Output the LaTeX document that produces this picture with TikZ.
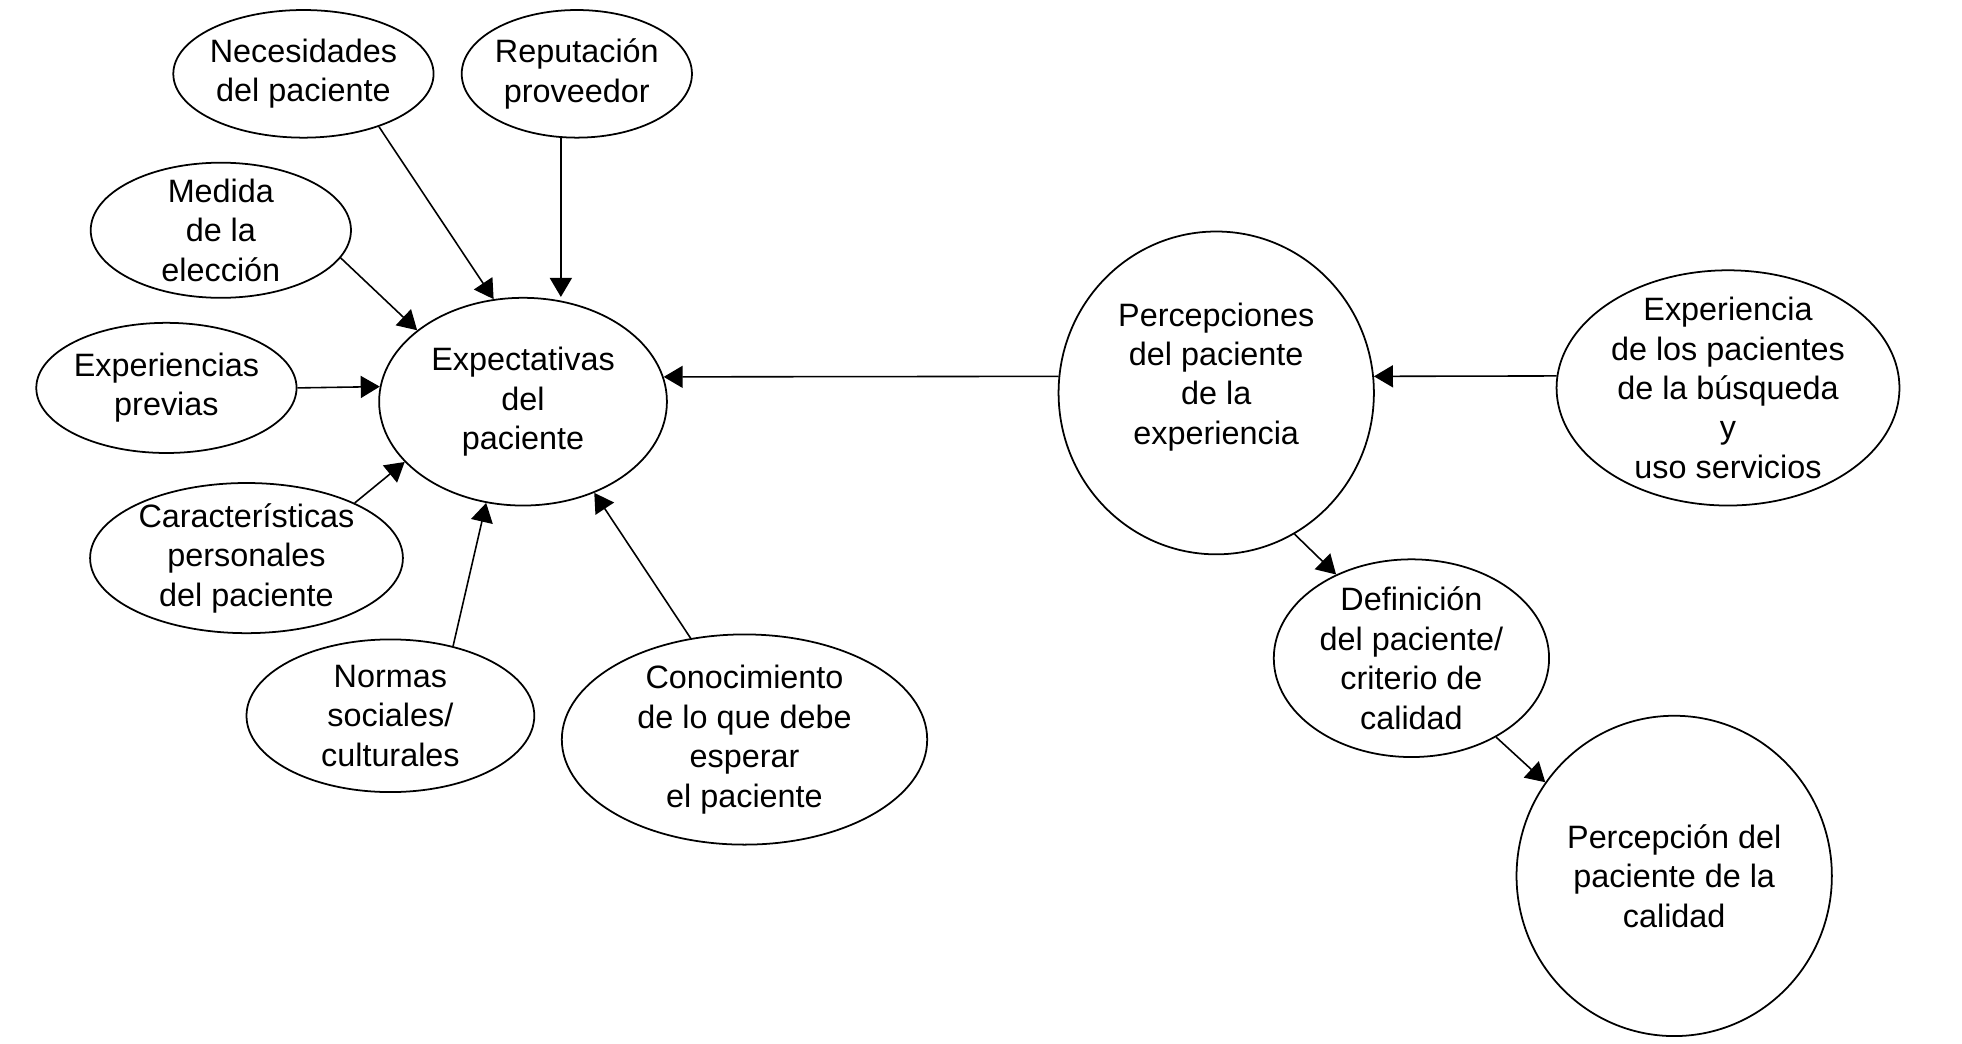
\documentclass[tikz,border=0pt]{standalone}
\usepackage{fontspec}
\setmainfont{Liberation Sans}
\usetikzlibrary{arrows.meta,shapes.geometric}
\tikzset{>={Triangle[length=1.9mm,width=2.2mm]},every node/.style={font=\fontsize{9.2}{11.2}\selectfont},bub/.style 2 args={ellipse,draw,line width=.5pt,align=center,inner sep=-5mm,minimum width=#1*0.25mm,minimum height=#2*0.25mm},flow/.style={->,line width=.45pt}}

\begin{document}
\begin{tikzpicture}[x=0.125mm,y=-0.125mm]
\useasboundingbox (0,0) rectangle (1568,834);
\node[bub={104}{51}] (nec) at (242.5,59) {Necesidades\\del paciente};
\node[bub={92}{51}] (rep) at (461,59) {Reputación\\proveedor};
\node[bub={104}{54}] (med) at (176.5,184) {Medida\\de la\\elección};
\node[bub={104}{52}] (prev) at (133,310) {Experiencias\\previas};
\node[bub={115}{83}] (exp) at (418,321) {Expectativas\\del\\paciente};
\node[bub={125}{60}] (car) at (197,446) {Características\\personales\\del paciente};
\node[bub={115}{61}] (nor) at (312,572) {Normas\\sociales/\\culturales};
\node[bub={146}{84}] (con) at (595,591) {Conocimiento\\de lo que debe\\esperar\\el paciente};
\node[bub={126}{129},label={[align=center,yshift=1.6mm]center:Percepciones\\del paciente\\de la\\experiencia}] (per) at (972,314) {};
\node[bub={137}{94}] (xpe) at (1381,310) {Experiencia\\de los pacientes\\de la búsqueda\\y\\uso servicios};
\node[bub={110}{79}] (def) at (1128,526) {Definición\\del paciente/\\criterio de\\calidad};
\node[bub={126}{128}] (cal) at (1338,700) {Percepción del\\paciente de la\\calidad};
\draw[flow] (nec.-35) -- (exp.106);
\draw[flow] (rep.-104) -- (rep.-104 |- exp.north);
\draw[flow] (med.-13) -- (exp.146);
\draw[flow] (prev.east) -- (exp.174);
\draw[flow] (car.27) -- (exp.-153);
\draw[flow] (nor.48) -- (exp.-110);
\draw[flow] (con.118) -- (exp.-52);
\draw[flow] (per.174) -- (exp.10);
\draw[flow] (xpe.176) -- (per.6);
\draw[flow] (per.-61) -- (def.132);
\draw[flow] (def.-43) -- (cal.144);
\end{tikzpicture}
\end{document}
